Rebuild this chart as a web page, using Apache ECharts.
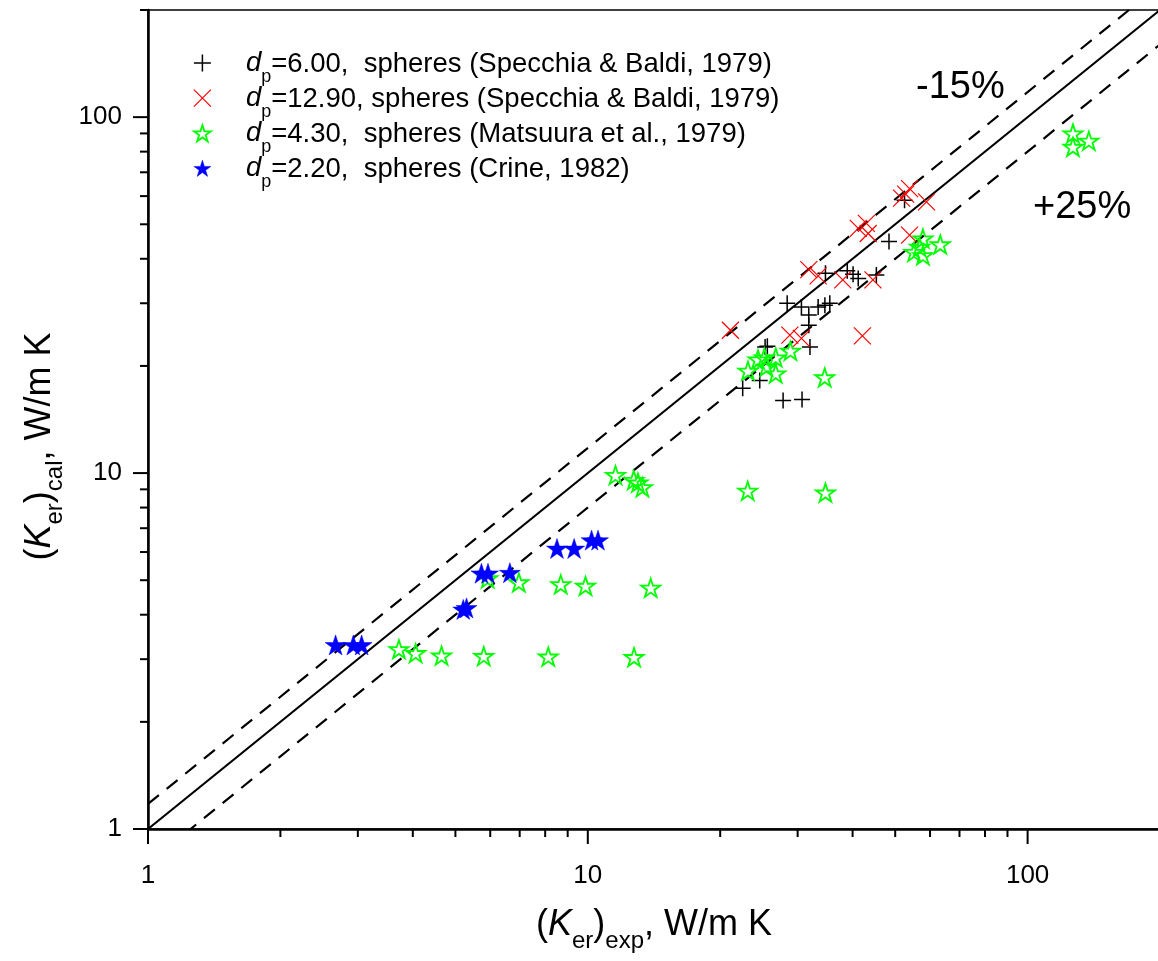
<!DOCTYPE html>
<html>
<head>
<meta charset="utf-8">
<script src="https://cdn.jsdelivr.net/npm/echarts@6/dist/echarts.min.js"></script>
<style>
html, body { margin: 0; padding: 0; overflow: hidden; background: #fff; }
#chart { width: 1162px; height: 961px; }
</style>
</head>
<body>
<div id="chart"></div>
<script>
// ---- data ----
const blackPlus = [
  [52.5, 58.4], [48.4, 44.7],
  [34.7, 36.4], [38.9, 37.0], [40.1, 36.2], [41.2, 35.2], [45.3, 36.0],
  [28.4, 30.0], [30.6, 29.3], [33.4, 29.3], [34.6, 29.6], [35.5, 30.0],
  [31.8, 27.8], [31.8, 26.0],
  [25.3, 22.6], [25.6, 22.7], [32.0, 22.6],
  [24.6, 18.2], [22.5, 17.3], [27.8, 16.0], [30.7, 16.1]
];
const redCross = [
  [53.9, 63.0], [52.8, 60.8], [51.7, 59.2], [58.9, 57.8], [53.9, 46.6],
  [41.2, 48.7], [43.0, 50.3], [43.4, 47.1],
  [44.5, 34.9],
  [31.8, 37.3], [33.4, 35.8], [38.0, 34.9],
  [21.1, 25.2],
  [28.8, 24.4], [30.6, 23.9],
  [42.1, 24.3]
];
const greenStar = [
  [3.72, 3.20], [4.06, 3.12], [4.65, 3.07], [5.80, 3.06], [8.13, 3.05], [12.74, 3.04],
  [5.92, 5.06], [6.97, 4.93], [8.68, 4.87], [9.88, 4.82], [13.9, 4.76],
  [11.56, 9.87], [12.72, 9.56], [13.0, 9.4], [13.31, 9.12],
  [23.1, 8.92], [34.7, 8.81],
  [23.13, 19.39], [24.38, 20.86], [25.2, 21.1], [25.47, 19.9], [26.75, 21.13], [26.75, 19.05], [28.89, 22.06], [34.57, 18.57],
  [57.8, 45.6], [63.3, 43.9], [55.2, 41.8], [57.8, 40.9], [56.8, 43.2],
  [126.8, 90.0], [137.8, 85.8], [126.8, 82.5]
];
const blueStar = [
  [2.67, 3.29], [2.93, 3.29], [3.06, 3.29],
  [5.21, 4.14], [5.30, 4.18],
  [5.73, 5.23], [5.93, 5.23], [6.65, 5.25],
  [8.51, 6.14], [9.31, 6.14], [10.2, 6.48], [10.55, 6.48]
];
// reference lines: parity, -15% and +25%
const parityLine = [[1, 1], [200, 200]];
const minus15Line = [[1, 1.176], [200, 235.3]];
const plus25Line = [[1, 0.8], [200, 160]];

const dpValues = ['6.00', '12.90', '4.30', '2.20'];
const dpSources = [',  spheres (Specchia & Baldi, 1979)', ', spheres (Specchia & Baldi, 1979)', ',  spheres (Matsuura et al., 1979)', ',  spheres (Crine, 1982)'];
const seriesNames = dpValues.map((v, i) => 'dp=' + v + dpSources[i]);

const axisMin = 1, axisMax = 200;
const majorTicks = [1, 10, 100];
const minorTicks = [2, 3, 4, 5, 6, 7, 8, 9, 20, 30, 40, 50, 60, 70, 80, 90, 200];
const labelTicks = [1, 10, 100];
const bandLabels = ['-15%', '+25%'];

// ---- chart ----
const FONT = 'Liberation Sans, Arial, Helvetica, sans-serif';
const starPath = 'path://M0,-1L0.2245,-0.309L0.951,-0.309L0.363,0.118L0.588,0.809L0,0.382L-0.588,0.809L-0.363,0.118L-0.951,-0.309L-0.2245,-0.309Z';
const plusPath = 'path://M0,-1L0,1M-1,0L1,0';
const crossPath = 'path://M-1,-1L1,1M-1,1L1,-1';

const styles = [
  { symbol: plusPath, size: 16, itemStyle: { color: '#000', borderColor: '#000', borderWidth: 1.5, opacity: 1 } },
  { symbol: crossPath, size: 17, itemStyle: { color: '#ff0000', borderColor: '#ff0000', borderWidth: 1.2, opacity: 1 } },
  { symbol: starPath, size: 19, itemStyle: { color: 'rgba(0,0,0,0)', borderColor: '#00ff00', borderWidth: 1.8, opacity: 1 } },
  { symbol: starPath, size: 21, itemStyle: { color: '#0000ff', borderColor: '#0000ff', borderWidth: 0.5, opacity: 1 } }
];
const datasets = [blackPlus, redCross, greenStar, blueStar];

const titleRich = {
  p: { fontSize: 36, lineHeight: 40, verticalAlign: 'top', fontFamily: FONT, color: '#000' },
  k: { fontSize: 36, lineHeight: 40, verticalAlign: 'top', fontStyle: 'italic', fontFamily: FONT, color: '#000' },
  s: { fontSize: 24, lineHeight: 23, padding: [22, 0, 0, 0], verticalAlign: 'top', fontFamily: FONT, color: '#000' }
};

const legendRich = {
  d: { fontSize: 27.5, lineHeight: 30, padding: [2, 0, 0, 30], verticalAlign: 'top', fontStyle: 'italic', fontFamily: FONT, color: '#000' },
  s: { fontSize: 18, lineHeight: 15, padding: [20, 0, 0, 0], verticalAlign: 'top', fontFamily: FONT, color: '#000' },
  n: { fontSize: 27.5, lineHeight: 30, padding: [2, 0, 0, 0], verticalAlign: 'top', fontFamily: FONT, color: '#000' }
};

const series = datasets.map((d, i) => ({
  name: seriesNames[i],
  type: 'scatter',
  data: d,
  symbol: styles[i].symbol,
  symbolSize: styles[i].size,
  symbolKeepAspect: true,
  itemStyle: styles[i].itemStyle,
  emphasis: { disabled: true },
  z: 3 + i
}));

const refLines = [
  { data: parityLine, type: 'solid' },
  { data: minus15Line, type: [14, 10] },
  { data: plus25Line, type: [14, 10] }
];
refLines.forEach(l => series.push({
  type: 'line', data: l.data, symbol: 'none', silent: true, clip: true, z: 2,
  lineStyle: { color: '#000', width: 2.2, type: l.type }
}));

const labelFmt = v => (labelTicks.some(t => Math.abs(t - v) < 1e-6) ? String(Math.round(v)) : '');

const option = {
  animation: false,
  backgroundColor: '#fff',
  grid: { left: 148, right: 2, top: 10, bottom: 132, show: true, borderColor: '#000', borderWidth: 1.5, backgroundColor: 'transparent' },
  xAxis: {
    type: 'log', logBase: 10, min: axisMin, max: axisMax,
    axisLine: { lineStyle: { color: '#000', width: 2.5 } },
    axisTick: { show: false },
    minorTick: { show: false },
    splitLine: { show: false },
    minorSplitLine: { show: false },
    axisLabel: { formatter: labelFmt, margin: 34, fontSize: 26, color: '#000', fontFamily: FONT, showMinLabel: true, showMaxLabel: false },
    name: '{p|(}{k|K}{s|er}{p|)}{s|exp}{p|, W/m K}',
    nameLocation: 'middle', nameGap: 78,
    nameTextStyle: { rich: titleRich }
  },
  yAxis: {
    type: 'log', logBase: 10, min: axisMin, max: axisMax,
    axisLine: { lineStyle: { color: '#000', width: 2.5 } },
    axisTick: { show: false },
    minorTick: { show: false },
    splitLine: { show: false },
    minorSplitLine: { show: false },
    axisLabel: { formatter: labelFmt, margin: 26, fontSize: 26, color: '#000', fontFamily: FONT, showMinLabel: true, showMaxLabel: false },
    name: '{p|(}{k|K}{s|er}{p|)}{s|cal}{p|, W/m K}',
    nameLocation: 'middle', nameGap: 86, nameRotate: 90,
    nameTextStyle: { rich: titleRich, padding: [0, 54, 0, 0] }
  },
  legend: {
    orient: 'vertical', left: 193, top: 48, padding: 0,
    itemWidth: 17, itemHeight: 17, itemGap: -2.9,
    selectedMode: false,
    data: seriesNames.map((n, i) => ({ name: n, icon: styles[i].symbol, itemStyle: styles[i].itemStyle })),
    formatter: function (name) {
      const i = seriesNames.indexOf(name);
      return '{d|d}{s|p}{n|=' + dpValues[i] + dpSources[i] + '}';
    },
    textStyle: { rich: legendRich }
  },
  series: series
};

const chart = echarts.init(document.getElementById('chart'), null, { renderer: 'canvas' });
chart.setOption(option);

// axis ticks, positioned through the chart's own log scales
const x0 = chart.convertToPixel({ xAxisIndex: 0 }, axisMin);
const y0 = chart.convertToPixel({ yAxisIndex: 0 }, axisMin);
const tickGraphics = [];
function addTicks(values, len) {
  values.forEach(v => {
    const px = chart.convertToPixel({ xAxisIndex: 0 }, v);
    const py = chart.convertToPixel({ yAxisIndex: 0 }, v);
    tickGraphics.push({ type: 'line', silent: true, z: 100, shape: { x1: px, y1: y0, x2: px, y2: y0 + len }, style: { stroke: '#000', lineWidth: 2 } });
    tickGraphics.push({ type: 'line', silent: true, z: 100, shape: { x1: x0 - len, y1: py, x2: x0, y2: py }, style: { stroke: '#000', lineWidth: 2 } });
  });
}
addTicks(majorTicks, 15);
addTicks(minorTicks, 8);
tickGraphics.push({ type: 'text', x: 916, y: 88, z: 100, silent: true, style: { text: bandLabels[0], fontSize: 38, fontFamily: FONT, fill: '#000', verticalAlign: 'middle' } });
tickGraphics.push({ type: 'text', x: 1033, y: 208, z: 100, silent: true, style: { text: bandLabels[1], fontSize: 38, fontFamily: FONT, fill: '#000', verticalAlign: 'middle' } });
chart.setOption({ graphic: tickGraphics });
</script>
</body>
</html>
